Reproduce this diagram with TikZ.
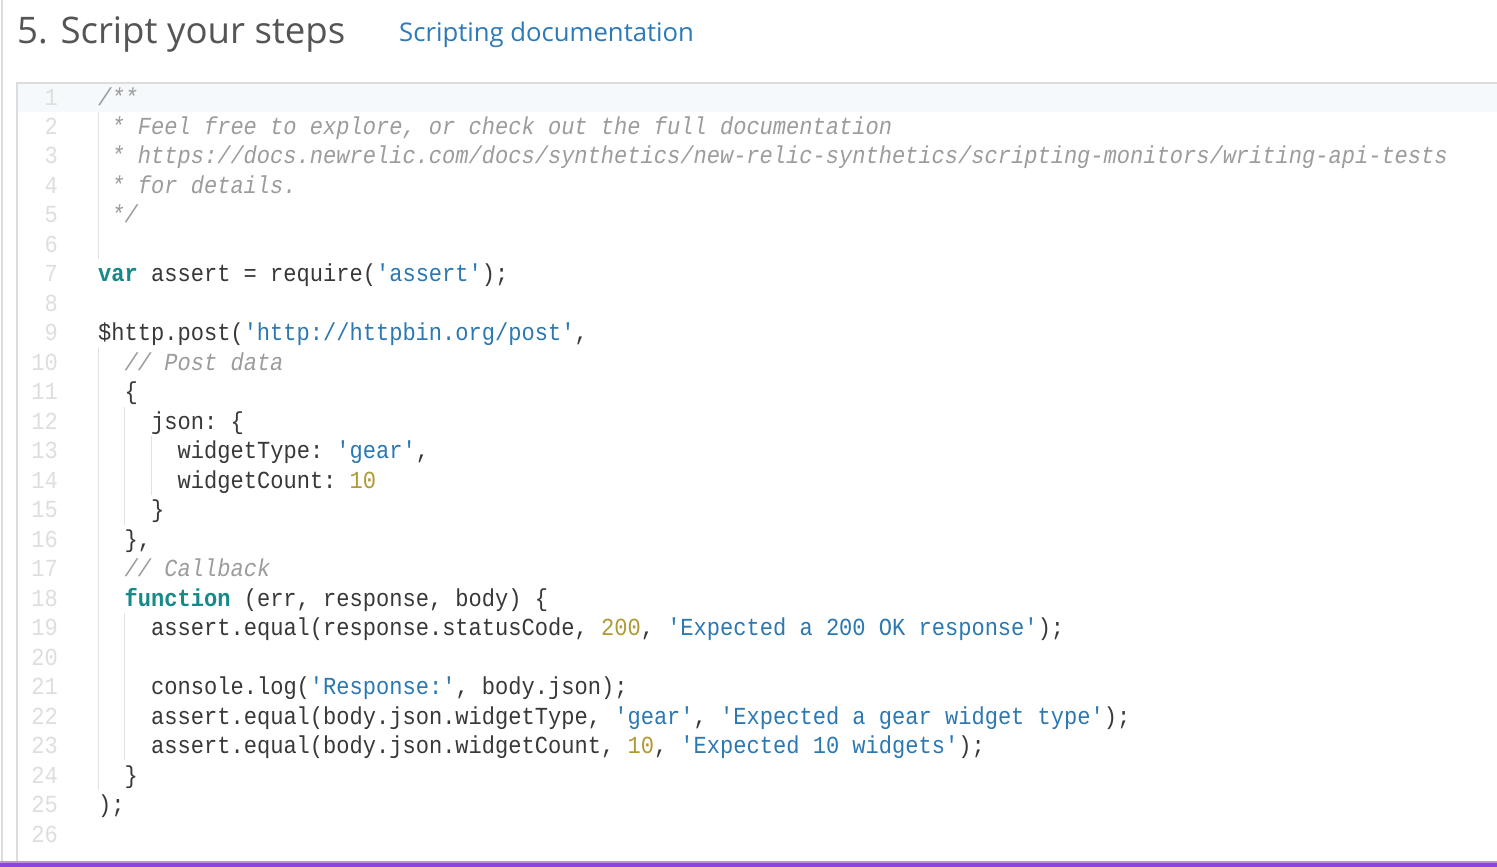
\documentclass[tikz,border=0pt]{standalone}
\usepackage{fontspec}
\setmonofont[FakeStretch=0.9]{Liberation Mono}
\newfontfamily\titlefont{Open Sans}
\definecolor{codegray}{HTML}{383838}
\definecolor{cmgray}{HTML}{9C9C9C}
\definecolor{kwteal}{HTML}{16898A}
\definecolor{strblue}{HTML}{2B78B2}
\definecolor{numgold}{HTML}{B09A35}
\definecolor{lngray}{HTML}{DEDEDE}
\definecolor{guidegray}{HTML}{E2E2E2}
\definecolor{boxgray}{HTML}{DCDCDC}
\definecolor{titlegray}{HTML}{555555}
\definecolor{linkblue}{HTML}{2D7AB9}
\definecolor{barpurple}{RGB}{140,68,224}
\definecolor{activeline}{HTML}{F5F9FB}
\newcommand\codefont{\ttfamily\fontsize{24.5}{29.5}\selectfont}
\newcommand\ckw[1]{\textcolor{kwteal}{\bfseries #1}}
\newcommand\cstr[1]{\textcolor{strblue}{#1}}
\newcommand\cnum[1]{\textcolor{numgold}{#1}}
\newcommand\ccm[1]{\textcolor{cmgray}{\itshape #1}}
\newcommand\codeline[4]{\node[codetext] (#1) at ({98+#3*13.25},{105+(#2-1)*29.48}) {#4};}
\tikzset{
  codetext/.style={anchor=base west, inner sep=0pt, font=\codefont, text=codegray},
  lnum/.style={anchor=base east, inner sep=0pt, font=\codefont, text=lngray},
  guide/.style={draw=guidegray, line width=1pt},
  frame/.style={draw=boxgray, line width=1.2pt}
}
\begin{document}
\begin{tikzpicture}[x=1pt,y=-1pt]
\useasboundingbox (0,0) rectangle (1497,867);
\fill[white] (0,0) rectangle (1497,867);
% outer left line
\draw[frame] (2,0) -- (2,862);
% active line highlight
\fill[activeline] (18,84) rectangle (1497,112);
% code box
\draw[frame] (1497,83) -- (17,83) -- (17,862);
% purple bar
\fill[barpurple] (0,862) rectangle (1497,867);
\fill[barpurple!60!white] (0,861) rectangle (1497,862.5);
% title
\node[anchor=base west, inner sep=0pt, font=\titlefont\fontsize{36.6}{42}\selectfont, text=titlegray] (title) at (17,44) {5. Script your steps};
\node[anchor=base west, inner sep=0pt, font=\titlefont\fontsize{25.7}{32}\selectfont, text=linkblue] (link) at (399,42) {Scripting documentation};
% indent guides
\draw[guide] (98.5,112) -- (98.5,259);
\draw[guide] (98.5,347.6) -- (98.5,789.8);
\draw[guide] (124.5,406.5) -- (124.5,524.5);
\draw[guide] (151,436) -- (151,495);
\draw[guide] (124.5,612.9) -- (124.5,760.3);
% line numbers
\foreach \i in {1,...,26} \node[lnum] (n\i) at (58,{105+(\i-1)*29.48}) {\i};
% code
\codeline{l1}{1}{0}{\ccm{/**}}
\codeline{l2}{2}{1}{\ccm{* Feel free to explore, or check out the full documentation}}
\codeline{l3}{3}{1}{\ccm{* https://docs.newrelic.com/docs/synthetics/new-relic-synthetics/scripting-monitors/writing-api-tests}}
\codeline{l4}{4}{1}{\ccm{* for details.}}
\codeline{l5}{5}{1}{\ccm{*/}}
\codeline{l7}{7}{0}{\ckw{var} assert = require(\cstr{'assert'});}
\codeline{l9}{9}{0}{\$http.post(\cstr{'http://httpbin.org/post'},}
\codeline{l10}{10}{2}{\ccm{// Post data}}
\codeline{l11}{11}{2}{\{}
\codeline{l12}{12}{4}{json: \{}
\codeline{l13}{13}{6}{widgetType: \cstr{'gear'},}
\codeline{l14}{14}{6}{widgetCount: \cnum{10}}
\codeline{l15}{15}{4}{\}}
\codeline{l16}{16}{2}{\},}
\codeline{l17}{17}{2}{\ccm{// Callback}}
\codeline{l18}{18}{2}{\ckw{function} (err, response, body) \{}
\codeline{l19}{19}{4}{assert.equal(response.statusCode, \cnum{200}, \cstr{'Expected a 200 OK response'});}
\codeline{l21}{21}{4}{console.log(\cstr{'Response:'}, body.json);}
\codeline{l22}{22}{4}{assert.equal(body.json.widgetType, \cstr{'gear'}, \cstr{'Expected a gear widget type'});}
\codeline{l23}{23}{4}{assert.equal(body.json.widgetCount, \cnum{10}, \cstr{'Expected 10 widgets'});}
\codeline{l24}{24}{2}{\}}
\codeline{l25}{25}{0}{);}
\end{tikzpicture}
\end{document}
